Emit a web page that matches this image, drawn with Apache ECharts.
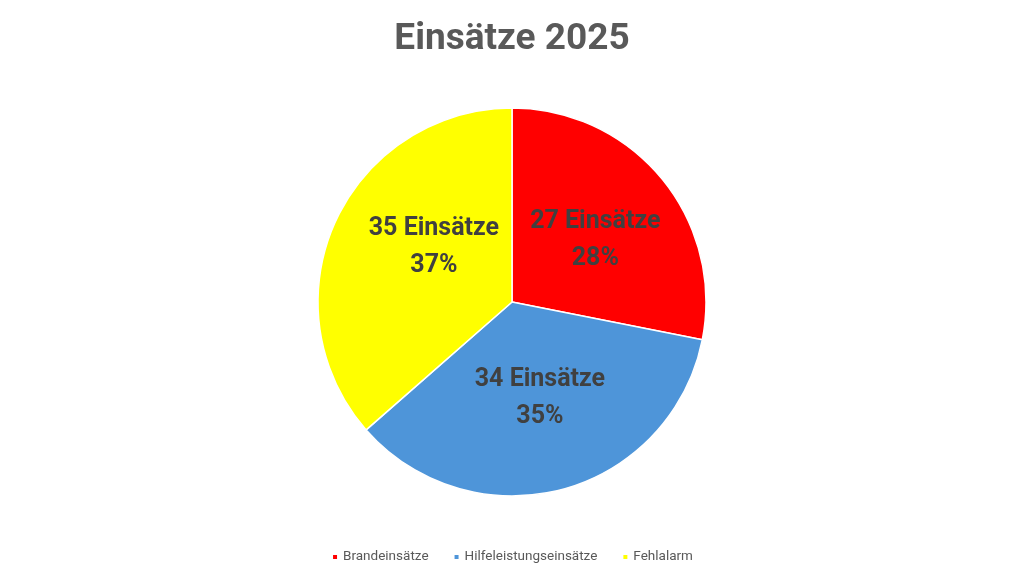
<!DOCTYPE html>
<html>
<head>
<meta charset="utf-8">
<script src="https://cdn.jsdelivr.net/npm/echarts@6/dist/echarts.min.js"></script>
<style>
  html, body { margin: 0; padding: 0; background: #fff; }
  #chart { width: 1024px; height: 579px; }
</style>
</head>
<body>
<div id="chart"></div>
<script>
// Daten
const categories = ['Brandeinsätze', 'Hilfeleistungseinsätze', 'Fehlalarm']
const counts = [27, 34, 35]
const percents = [28, 35, 37]
const colors = ['#ff0000', '#4e95d9', '#ffff00']

const chart = echarts.init(document.getElementById('chart'))

// kleine Verschiebungen der Beschriftungen wie im Original
const labelShift = [[6, 2], [2, 0], [13, -13]]

const pieData = categories.map((name, i) => ({
  name: name,
  value: counts[i],
  pct: percents[i],
  itemStyle: { color: colors[i] },
  label: { offset: labelShift[i] }
}))

const option = {
  title: {
    text: 'Einsätze 2025',
    left: 'center',
    top: 16,
    textStyle: {
      fontFamily: 'Roboto',
      fontSize: 37,
      fontWeight: 'bold',
      color: '#595959'
    }
  },
  legend: {
    bottom: 10,
    left: 'center',
    icon: 'rect',
    itemWidth: 6,
    itemHeight: 6,
    itemGap: 24,
    textStyle: {
      fontFamily: 'Roboto',
      fontSize: 13.5,
      color: '#595959'
    },
    data: categories
  },
  series: [
    {
      type: 'pie',
      center: [512, 302],
      radius: 194,
      startAngle: 90,
      clockwise: true,
      animation: false,
      itemStyle: { borderColor: '#fff', borderWidth: 1.5 },
      label: {
        position: 'inside',
        fontFamily: 'Roboto',
        fontSize: 25,
        fontWeight: 'bold',
        lineHeight: 37,
        color: '#404040',
        formatter: p => p.value + ' Einsätze\n' + p.data.pct + '%'
      },
      labelLine: { show: false },
      emphasis: { disabled: true },
      data: pieData
    }
  ]
}

chart.setOption(option)
</script>
</body>
</html>
